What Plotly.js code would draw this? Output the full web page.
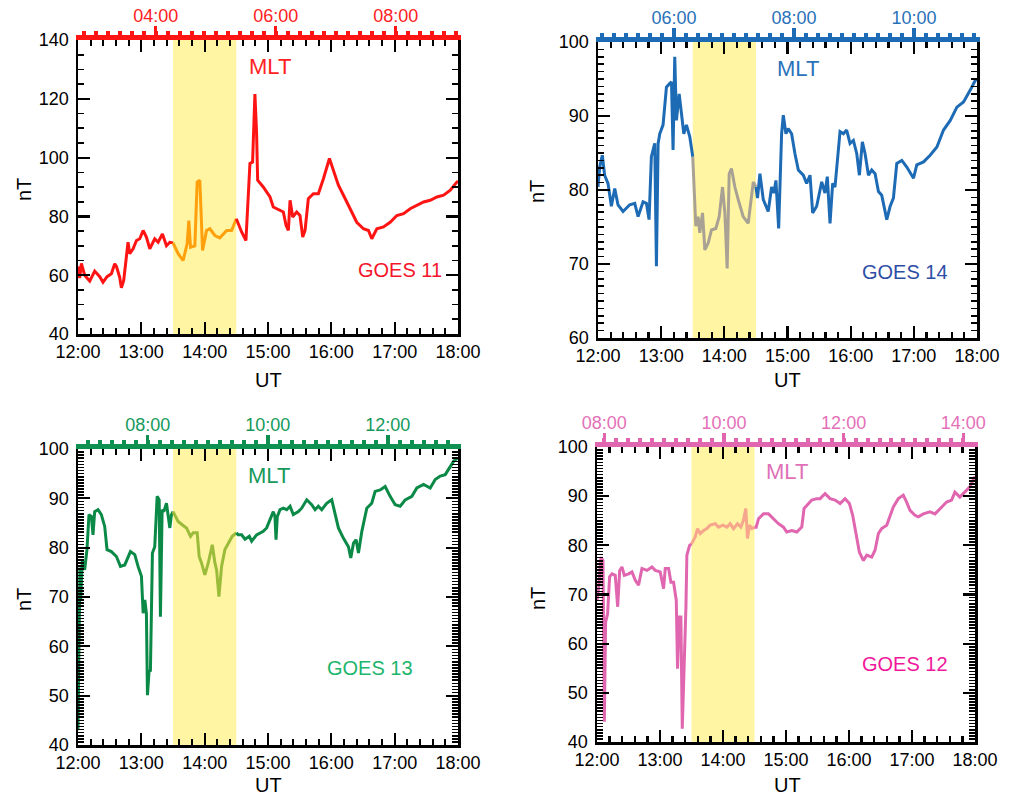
<!DOCTYPE html>
<html>
<head>
<meta charset="utf-8">
<script src="https://cdn.plot.ly/plotly-3.0.1.min.js"></script>
<style>html,body{margin:0;padding:0;background:#fff;}#chart{width:1014px;height:797px;}</style>
</head>
<body>
<div id="chart"></div>
<script>
// ---------------- DATA (time = minutes after 12:00 UT, values in nT) ----------------
const utTickMinutes = [0, 60, 120, 180, 240, 300, 360];
const utTickLabels = ["12:00", "13:00", "14:00", "15:00", "16:00", "17:00", "18:00"];

const g11_t = [0,1.6,3.2,6.3,11.1,15.8,20.6,23.7,27.5,31.6,34.8,36.4,39.5,41.1,43.3,47.4,49.0,52.2,55.4,58.5,61.7,64.8,68.0,72.7,75.9,80.0,83.8,87.0,90,94.9,99.6,103.4,105.0,106.6,110.7,112.9,115.4,118.0,121.8,124.9,129.7,134.4,140.8,145.5,150,151.8,155.0,159.1,161.3,162.9,165.4,167.6,169.2,170.2,175.5,181.9,185.0,191.4,194.5,197.1,199.3,200.9,203.4,207.2,210.3,212.9,215.1,218.2,223.0,227.7,232.5,238.2,242.0,246.7,251.5,257.8,264.1,270.4,275.2,278.3,283.1,289.4,295.7,302.1,308.4,314.7,321.0,327.4,333.7,340.0,346.4,352.7,359.0,360];
const g11_v = [63,59,64,60,58,61.4,59.5,57.6,59.5,60.5,63.9,63,59.3,55.7,58.2,71.2,67.3,69,71.8,72.4,75.2,73,69,72.4,71.2,74,70,71.2,71,67.3,65,70.7,78.6,69.5,70,91.7,92.3,68.4,75.2,75.8,73.5,72.7,75.2,75.2,79.2,77.3,74.7,71.8,87.7,98,98.5,121.6,108.2,92.3,90,86.6,83.2,82,81.5,77,75.2,85.5,79.8,81.5,80.3,73,75.2,86,87.7,87.7,92.8,99.7,95.7,90.6,87.2,82.6,78,75.8,75.2,72.4,75.8,76.4,78,80.3,80.9,82.6,83.8,84.9,85.5,86.6,87.2,88.9,91.7,92];

const g14_t = [0,1.6,4.1,6.3,9.5,12.7,15.9,19.0,23.8,30.1,34.9,38.1,42.8,46.0,48.5,50.7,53.9,55.5,57.1,58.7,61.8,65.0,68.2,69.8,71.3,72.9,74.5,77.1,79.3,81.5,84.0,87.2,90,92.9,95.1,96.7,99.3,101.5,104.6,107.8,111.9,115.1,118.3,120.5,122.7,124.6,126.8,130.0,133.2,137.9,142.7,144.9,147.5,150,151.5,153.8,157.0,161.7,164.9,167.1,169.0,171.6,174.4,176.0,178.5,180.7,183.9,187.1,190.3,195.0,198.2,201.4,203.9,207.7,212.5,215.6,217.8,220.4,222.9,225.1,227.4,229.9,233.1,236.2,239.4,242.6,245.8,248.3,251.1,253.7,256.9,260.0,263.2,266.4,269.5,274.3,277.5,280.6,283.8,288.6,293.3,299.7,302.8,309.2,315.5,321.9,328.2,334.6,340.9,347.2,353.6,358.3,360];
const g14_v = [80.4,83.1,84.7,82,80.9,77.8,80.2,78,77.1,78,78.2,76.4,78.4,78.2,76,84.5,86.3,69.7,86.3,87.6,88.8,93.9,94.4,94.6,85.4,98,89.4,93,90.3,87.6,88.8,87.2,84.5,75.1,76.4,74.2,76.9,71.9,72.8,74.6,74.8,76.4,80.4,76.9,69.4,82.2,82.9,80.4,78.7,76.4,75.5,77.8,81.1,80.4,78.9,82.2,78.7,77.1,80.4,79.6,81.3,74.8,87.6,90.1,87.6,88.3,87.6,84.9,82.7,82,80.9,82,76.9,77.8,81.1,79.6,81.8,75.5,80.9,80.4,83.6,87.9,87.6,88.1,86.3,86.7,84.9,82,86.5,84.9,82,82.7,82.2,79.8,79.3,76,77.8,78.9,83.6,84,83.1,81.6,83.4,83.8,84.7,85.8,88.1,89.4,91.2,91.9,93.5,94.8,95];

const g13_t = [0,1.0,1.8,2.5,4.1,6.3,8.5,10.4,12.7,14.2,15.8,19.0,22.1,25.3,27.5,31.6,36.4,40.2,44.3,49.7,53.8,56.9,60.1,61.7,63.3,64.8,65.8,67.4,68.6,70.5,72.7,75.0,76.9,78.1,79.7,81.3,83.8,87.0,88.5,90,91.7,94.9,99.0,102.8,106.6,109.1,112.9,114.8,117.0,120.2,123.4,127.2,129.7,131.3,133.5,136.0,139.2,143.3,146.1,150,151.8,155.0,158.2,162.3,164.5,169.2,175.5,178.7,181.9,185.0,186.6,187.6,188.8,191.4,194.5,197.7,200.9,204.0,208.8,211.9,216.7,221.4,224.6,227.7,230.9,235.6,240.4,243.6,246.7,251.5,256.2,258.4,261.0,263.5,265.7,268.9,271.1,273.6,278.3,281.5,286.3,291.0,295.7,300.5,305.2,310.0,316.3,321.0,327.4,333.7,338.4,343.2,347.9,351.1,355.8,359.6];
const g13_v = [43,62,76,69.4,77.5,75.5,79.6,86.7,86.3,82.6,87.3,87.7,86.7,84.3,79.6,79.2,78.2,76.2,76.5,79.2,78.6,76.2,74.2,66.7,69.4,66.7,50.1,55.2,54.9,78.9,80.2,90.4,89.7,66,87.7,87.3,89,84,86.7,87.3,86.7,85.3,84.6,84,82.3,83,83,78.2,76.9,74.5,76.9,80.6,76.9,75.5,70.1,76.2,79.6,81.3,82.3,83,82.6,82.6,81.7,82.3,81.3,82.6,83.3,84,85.7,87.3,86.3,81.6,86.3,87.7,88,87.7,88.4,86.7,87.3,88,89.7,88.7,87.7,88.4,87.7,89,89.7,86.7,84,81.9,80.2,77.9,80.9,81.6,78.9,83.3,85.7,88,89,91.4,91.7,92.4,90.4,88.7,88.4,89.7,90.4,92.1,92.8,92.1,93.8,94.5,94.8,95.8,97.5,98.2];

const g12_t = [0,1.6,3.8,5.7,7.0,8.2,10.1,12.0,14.3,17.4,19.7,21.6,23.8,26.0,30.1,33.3,36.5,39.6,42.8,47.6,52.3,55.5,60.2,63.4,65.0,68.2,70.4,72.9,75.5,76.7,78.3,79.9,81.2,83.1,84.7,85.6,88.2,90,93.5,95.8,98.3,101.5,104.6,107.8,112.6,115.7,119.9,123.7,126.8,130.0,133.8,137.0,139.5,141.7,143.3,145.2,147.5,150,151.6,153.8,158.6,163.3,168.1,172.8,177.6,180.7,185.5,190.3,195.0,197.2,199.8,204.5,209.3,212.5,217.2,222.0,226.7,231.5,236.2,240.4,243.5,246.7,249.9,253.7,256.9,261.6,264.8,268.0,271.1,275.9,279.0,282.2,287.0,291.7,294.9,298.1,302.8,306.0,310.8,317.1,321.9,326.6,333.0,337.7,340.9,345.6,350.4,355.1,358.9,360];
const g12_v = [68.8,71.5,77.6,76.9,44.1,64.4,66.1,73.6,74.2,73.9,67.5,74.9,75.6,73.9,74.2,74.6,72.9,71.9,75.3,74.9,75.6,74.9,74.6,71.2,75.3,75.3,72.5,72.5,68.8,54.9,65.4,65.4,42.7,53.9,67.5,78,80,80.3,81.7,83.4,82.4,83,83.4,84.1,84.4,83.7,84.1,83.7,84.4,83.4,84.4,83.7,85.1,87.5,81.4,84.1,83.4,83.7,83.7,85.4,86.4,86.4,85.4,84.4,83.7,82.7,83,82.7,83.7,87.5,88.1,89.2,89.5,89.5,90.5,89.5,89.2,88.5,89.5,88.5,86.1,82.4,78.6,76.9,78,77.6,79,82.4,83.4,84.1,85.8,87.8,89.5,90.2,88.8,87.1,86.1,85.8,86.4,86.8,86.4,87.5,88.8,89.2,90.8,89.8,90.8,91.9,93.6,94];

// satellites in panel order: top-left, top-right, bottom-left, bottom-right
const satNames = ["GOES 11", "GOES 14", "GOES 13", "GOES 12"];
// MLT (hours) at 12:00 UT and at 18:00 UT for each satellite
const mltAt12 = [2.705, 4.733, 6.838, 7.878];
const mltAt18 = [9.038, 11.05, 13.17, 14.196];
const mltTickHours = [[4, 6, 8], [6, 8, 10], [8, 10, 12], [8, 10, 12, 14]];
// highlighted interval (minutes after 12:00 UT)
const shadeStart = 90, shadeEnd = 150;

// ---------------- STYLE / LAYOUT ----------------
const FONT = "Liberation Sans, Arial, Helvetica, sans-serif";
const W = 1014, H = 797;
const fx = p => p / W, fy = p => 1 - p / H;
const hhmm = h => String(Math.floor(h)).padStart(2, "0") + ":00";

const panels = [
  { t: g11_t, v: g11_v, yr: [40, 140], ydt: 20, ymin: 5,
    line: "#FF1414", mid: "#FFA00C", axis: "#FF1414", mltLab: "#FF2222", mltTxt: "#FF2222", satTxt: "#F5142A",
    px: [78, 458], py: [40, 334], mlt: [270, 67], sat: [400, 270], ut: [268, 380], nt: [24, 190] },
  { t: g14_t, v: g14_v, yr: [60, 100], ydt: 10, ymin: 1,
    line: "#1E6BB5", mid: "#A9A294", axis: "#1E6BB5", mltLab: "#2A72BA", mltTxt: "#2A72BA", satTxt: "#2E4EA6",
    px: [598, 977], py: [42, 338], mlt: [798, 68], sat: [905, 272], ut: [787, 380], nt: [537, 192] },
  { t: g13_t, v: g13_v, yr: [40, 100], ydt: 10, ymin: 0.625,
    line: "#0B8A47", mid: "#9BBB3A", axis: "#0E9150", mltLab: "#16995A", mltTxt: "#16995A", satTxt: "#20B56C",
    px: [78, 458], py: [449, 745], mlt: [269, 475], sat: [370, 668], ut: [268, 785], nt: [24, 600] },
  { t: g12_t, v: g12_v, yr: [40, 100], ydt: 10, ymin: 0.625,
    line: "#E066AF", mid: "#F5A68C", axis: "#E066AF", mltLab: "#E470B8", mltTxt: "#E070B8", satTxt: "#F0179B",
    px: [597, 975], py: [447, 742], mlt: [787, 471], sat: [905, 664], ut: [787, 785], nt: [538, 599] }
];

const layout = {
  width: W, height: H,
  margin: { l: 0, r: 0, t: 0, b: 0 },
  paper_bgcolor: "#ffffff", plot_bgcolor: "#ffffff",
  showlegend: false,
  font: { family: FONT, size: 18, color: "#000" },
  shapes: [], annotations: []
};
const traces = [];

panels.forEach((p, i) => {
  const xn = 2 * i + 1, xm = 2 * i + 2, yn = i + 1;
  const xKey = "xaxis" + (xn === 1 ? "" : xn), xId = "x" + (xn === 1 ? "" : xn);
  const x2Key = "xaxis" + xm, x2Id = "x" + xm;
  const yKey = "yaxis" + (yn === 1 ? "" : yn), yId = "y" + (yn === 1 ? "" : yn);
  const dx = [fx(p.px[0]), fx(p.px[1])];
  const dy = [fy(p.py[1]), fy(p.py[0])];

  layout[xKey] = {
    domain: dx, anchor: yId, range: [0, 360],
    tickmode: "array", tickvals: utTickMinutes, ticktext: utTickLabels,
    ticks: "inside", ticklen: 12, tickwidth: 2.2, tickcolor: "#000",
    showline: true, linecolor: "#000", linewidth: 2.5, mirror: "ticks",
    showgrid: false, zeroline: false, ticklabelstandoff: 0,
    tickfont: { family: FONT, size: 18, color: "#000" },
    minor: { tickmode: "linear", tick0: 0, dtick: 12, ticks: "inside", ticklen: 6, tickwidth: 2.2, tickcolor: "#000", showgrid: false }
  };
  layout[x2Key] = {
    overlaying: xId, anchor: yId, side: "top",
    range: [mltAt12[i], mltAt18[i]],
    tickmode: "array", tickvals: mltTickHours[i], ticktext: mltTickHours[i].map(hhmm),
    ticks: "outside", ticklen: 9, tickwidth: 3.5, tickcolor: p.axis,
    showline: true, linecolor: p.axis, linewidth: 5,
    showgrid: false, zeroline: false, ticklabelstandoff: -3,
    tickfont: { family: FONT, size: 18, color: p.mltLab },
    minor: { tickmode: "linear", tick0: 0, dtick: 0.2, ticks: "outside", ticklen: 4, tickwidth: 4, tickcolor: p.axis, showgrid: false }
  };
  layout[yKey] = {
    domain: dy, anchor: xId, range: p.yr,
    tickmode: "linear", tick0: p.yr[0], dtick: p.ydt,
    ticks: "inside", ticklen: 12, tickwidth: 2.2, tickcolor: "#000",
    showline: true, linecolor: "#000", linewidth: 2.5, mirror: "ticks",
    showgrid: false, zeroline: false, ticklabelstandoff: 3,
    tickfont: { family: FONT, size: 18, color: "#000" },
    minor: { tickmode: "linear", tick0: p.yr[0], dtick: p.ymin, ticks: "inside", ticklen: 6, tickwidth: 1.6, tickcolor: "#000", showgrid: false }
  };

  // split each series at the highlighted interval: before / inside / after
  const seg = (lo, hi) => {
    const xs = [], ys = [];
    p.t.forEach((tt, k) => { if (tt >= lo && tt <= hi) { xs.push(tt); ys.push(p.v[k]); } });
    return { xs, ys };
  };
  [[0, shadeStart, p.line], [shadeStart, shadeEnd, p.mid], [shadeEnd, 360, p.line]].forEach(([lo, hi, col]) => {
    const s = seg(lo, hi);
    traces.push({
      type: "scatter", mode: "lines", x: s.xs, y: s.ys, xaxis: xId, yaxis: yId,
      line: { color: col, width: 3 }, hoverinfo: "skip"
    });
  });
  // keeps the MLT axis attached to the panel
  traces.push({ type: "scatter", mode: "lines", x: [mltAt12[i]], y: [null], xaxis: x2Id, yaxis: yId, hoverinfo: "skip" });

  layout.shapes.push({
    type: "rect", xref: xId, yref: yId + " domain", x0: shadeStart, x1: shadeEnd, y0: 0, y1: 1,
    fillcolor: "#FFF5A2", line: { width: 0 }, layer: "below"
  });

  const ann = (txt, pos, size, color, extra) => Object.assign({
    text: txt, xref: "paper", yref: "paper", x: fx(pos[0]), y: fy(pos[1]),
    xanchor: "center", yanchor: "middle", showarrow: false,
    font: { family: FONT, size: size, color: color }
  }, extra || {});
  layout.annotations.push(ann("MLT", p.mlt, 22, p.mltTxt));
  layout.annotations.push(ann(satNames[i], p.sat, 20, p.satTxt));
  layout.annotations.push(ann("UT", p.ut, 20, "#000"));
  layout.annotations.push(ann("nT", p.nt, 20, "#000", { textangle: -90 }));
});

Plotly.newPlot("chart", traces, layout, { staticPlot: true, displayModeBar: false });
</script>
</body>
</html>
